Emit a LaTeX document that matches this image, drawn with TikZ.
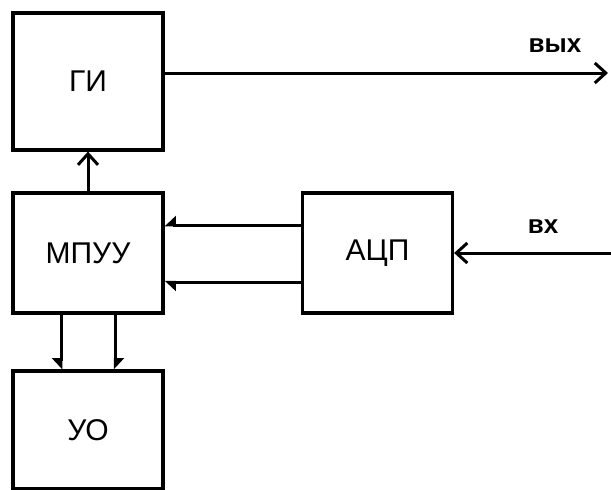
\documentclass[tikz,border=0pt]{standalone}
\usepackage{fontspec}
\setmainfont{Liberation Sans}
\usetikzlibrary{arrows.meta,positioning}
\tikzset{
  bd diagram/.style={x=1pt, y=-1pt, line width=3.2pt,
    font=\fontsize{30}{36}\selectfont},
  bd box/.style={draw, minimum width=150pt, inner sep=0pt, align=center},
  bd open/.style={line width=3pt, -{Straight Barb[length=11pt,width=20pt]}},
  bd half/.style={line width=3pt, -{Triangle[length=10pt,width=18pt,#1]}},
  bd label/.style={font=\fontsize{26}{30}\selectfont\bfseries}
}

\begin{document}
\begin{tikzpicture}[bd diagram]
\useasboundingbox (0,0) rectangle (611,490);
% blocks
\node[bd box, minimum height=137pt] (gi) at (88,81.5) {ГИ};
\node[bd box, minimum height=120pt] (mpuu) at (88,253) {МПУУ};
\node[bd box, minimum height=120pt] (acp) at (377.5,253) {АЦП};
\node[bd box, minimum height=118pt] (uo) at (88,430) {УО};
% output and input
\coordinate (out) at (608,73);
\coordinate (in) at (611,253);
\draw[bd open] (gi.east |- out) -- (out);
\node[bd label] (vyx) at (555,46) {вых};
\draw[bd open] (in) -- (acp.east);
\node[bd label] (vx) at (543,227) {вх};
\draw[bd open] (mpuu.north) -- (gi.south);
% two-line buses
\foreach \dy/\side in {28/right,-29/left}
  \draw[bd half=\side] ([yshift=\dy pt]acp.west) -- ([yshift=\dy pt]mpuu.east);
\foreach \dx/\side in {-27/right,27/left}
  \draw[bd half=\side] ([xshift=\dx pt]mpuu.south) -- ([xshift=\dx pt]uo.north);
\end{tikzpicture}
\end{document}
